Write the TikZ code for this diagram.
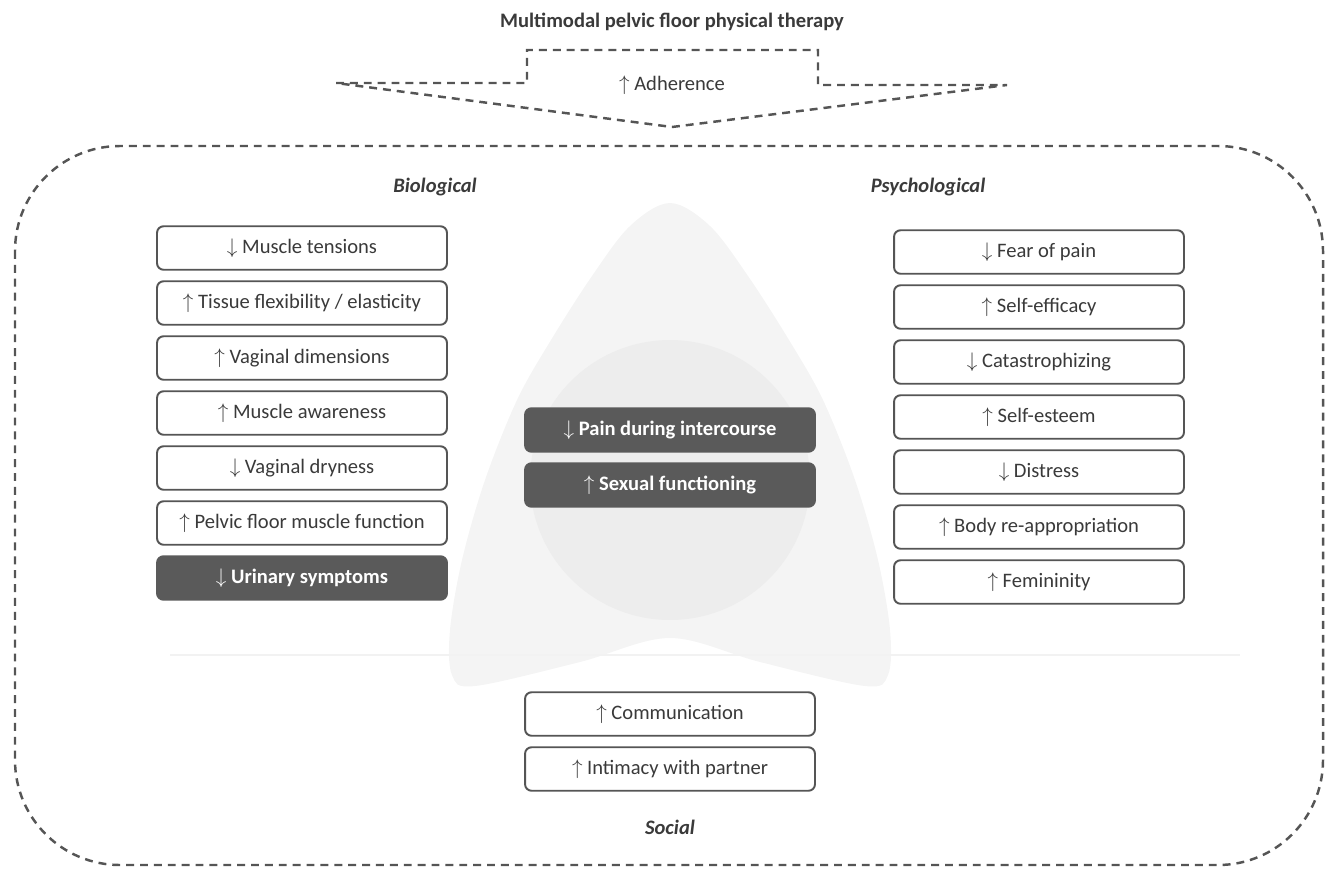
\documentclass[tikz,border=0pt]{standalone}
\usepackage{fontspec}
\setmainfont{Carlito}
\definecolor{txt}{HTML}{3A3A3A}
\definecolor{edge}{HTML}{555555}
\definecolor{dark}{HTML}{5A5A5A}
\definecolor{bgA}{HTML}{F4F4F4}
\definecolor{bgB}{HTML}{EDEDED}
\begin{document}
\begin{tikzpicture}[x=0.02cm,y=-0.02cm,
  lbox/.style={draw=edge, line width=1.1pt, fill=white, rounded corners=0.13cm,
    minimum width=5.8cm, minimum height=0.87cm, inner sep=0pt, text=txt,
    font=\fontsize{11.7}{13}\selectfont},
  dbox/.style={lbox, fill=dark, draw=dark, text=white, font=\fontsize{11.7}{13}\selectfont\bfseries},
  dashline/.style={draw=edge, line width=1.4pt, dash pattern=on 4.5pt off 3.4pt},
  cat/.style={text=txt, font=\fontsize{11.7}{13}\selectfont\bfseries\itshape},
  ttl/.style={text=txt, font=\fontsize{11.7}{13}\selectfont\bfseries}]
\useasboundingbox (0,0) rectangle (1327,869);
% faint background shapes
\fill[bgA] plot[smooth cycle, tension=0.55] coordinates {(670,203) (630,226) (592,276) (551,340) (517,400) (485,480) (462,560) (450,630) (452,675) (475,686) (580,662) (670,638) (760,662) (865,686) (888,675) (890,630) (878,560) (855,480) (823,400) (789,340) (748,276) (710,226)};
\fill[bgB] (670,480) circle[radius=2.8cm];
\draw[gray!10, line width=0.8pt] (170,655) -- (1240,655);
% title and arrow
\node[ttl] (title) at (672,22) {Multimodal pelvic floor physical therapy};
\draw[dashline] (336,83) -- (527,83) -- (527,50) -- (818,50) -- (818,85) -- (1007,85) -- (672,127) -- cycle;
\node[text=txt, font=\fontsize{11.7}{13}\selectfont] (adh) at (672,85) {$\uparrow$ Adherence};
% outer frame
\draw[dashline, rounded corners=2.1cm] (15,146) rectangle (1323,865);
% category labels
\node[cat] (bio) at (435,187) {Biological};
\node[cat] (psy) at (928,187) {Psychological};
\node[cat] (soc) at (670,827) {Social};
% biological
\node[lbox] (b1) at (302,248) {$\downarrow$ Muscle tensions};
\node[lbox] (b2) at (302,303) {$\uparrow$ Tissue flexibility / elasticity};
\node[lbox] (b3) at (302,358) {$\uparrow$ Vaginal dimensions};
\node[lbox] (b4) at (302,413) {$\uparrow$ Muscle awareness};
\node[lbox] (b5) at (302,468) {$\downarrow$ Vaginal dryness};
\node[lbox] (b6) at (302,523) {$\uparrow$ Pelvic floor muscle function};
\node[dbox] (b7) at (302,578) {$\downarrow$ Urinary symptoms};
% psychological
\node[lbox] (p1) at (1039,252) {$\downarrow$ Fear of pain};
\node[lbox] (p2) at (1039,307) {$\uparrow$ Self-efficacy};
\node[lbox] (p3) at (1039,362) {$\downarrow$ Catastrophizing};
\node[lbox] (p4) at (1039,417) {$\uparrow$ Self-esteem};
\node[lbox] (p5) at (1039,472) {$\downarrow$ Distress};
\node[lbox] (p6) at (1039,527) {$\uparrow$ Body re-appropriation};
\node[lbox] (p7) at (1039,582) {$\uparrow$ Femininity};
% central
\node[dbox] (c1) at (670,430) {$\downarrow$ Pain during intercourse};
\node[dbox] (c2) at (670,485) {$\uparrow$ Sexual functioning};
% social
\node[lbox] (s1) at (670,714) {$\uparrow$ Communication};
\node[lbox] (s2) at (670,769) {$\uparrow$ Intimacy with partner};
\end{tikzpicture}
\end{document}
